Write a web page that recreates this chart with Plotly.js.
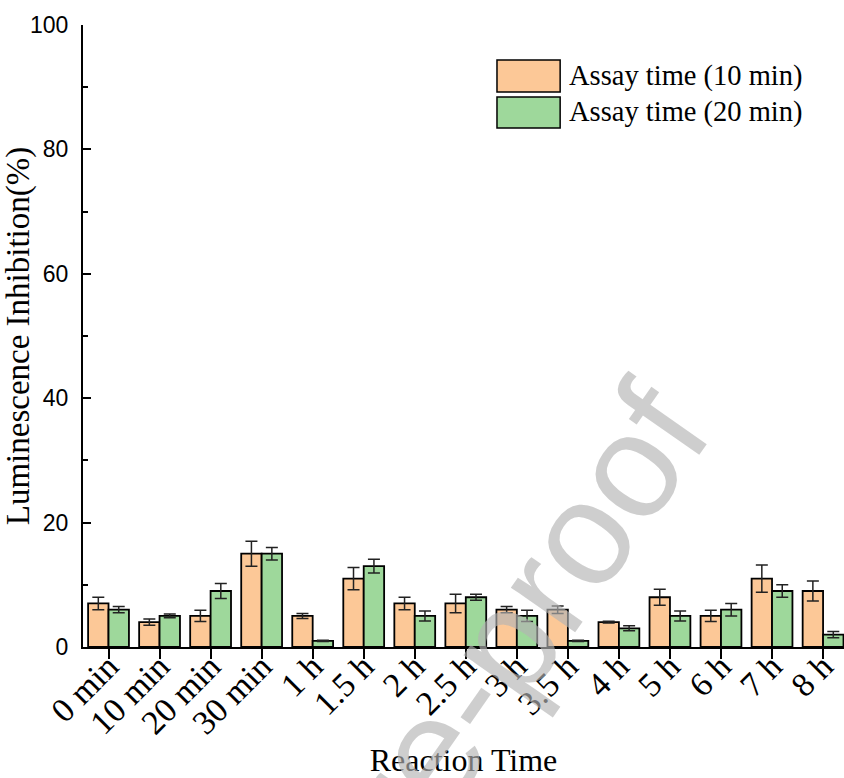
<!DOCTYPE html>
<html>
<head>
<meta charset="utf-8">
<script src="https://cdn.plot.ly/plotly-3.0.1.min.js"></script>
<style>html,body{margin:0;padding:0;background:#fff;}#chart{width:844px;height:778px;}</style>
</head>
<body>
<div id="chart"></div>
<script>
const categories = ['0 min','10 min','20 min','30 min','1 h','1.5 h','2 h','2.5 h','3 h','3.5 h','4 h','5 h','6 h','7 h','8 h'];
const assay10 = [7, 4, 5, 15, 5, 11, 7, 7, 6, 6, 4, 8, 5, 11, 9];
const assay10Err = [1.0, 0.5, 0.9, 2.0, 0.4, 1.8, 1.0, 1.5, 0.5, 0.6, 0.15, 1.3, 0.9, 2.2, 1.6];
const assay20 = [6, 5, 9, 15, 1, 13, 5, 8, 5, 1, 3, 5, 6, 9, 2];
const assay20Err = [0.5, 0.3, 1.2, 1.0, 0.1, 1.1, 0.8, 0.5, 0.9, 0.1, 0.4, 0.8, 1.0, 1.0, 0.5];
const seriesNames = ['Assay time (10 min)', 'Assay time (20 min)'];
const yTicks = [0, 20, 40, 60, 80, 100];

const orange = '#FCC897';
const green = '#9ED89B';
const serif = '"Liberation Serif", "Times New Roman", serif';
const sans = '"Liberation Sans", Arial, sans-serif';

function barTrace(name, y, err, color) {
  return {
    type: 'bar', name: name, x: categories, y: y,
    marker: {color: color, line: {color: '#000', width: 1.8}},
    error_y: {type: 'data', array: err, visible: true, color: '#222', thickness: 1.5, width: 6},
    showlegend: false
  };
}

const data = [
  barTrace(seriesNames[0], assay10, assay10Err, orange),
  barTrace(seriesNames[1], assay20, assay20Err, green)
];

// legend drawn as shapes + text (large swatches as in the reference)
const legendShapes = [
  {type: 'rect', xref: 'paper', yref: 'paper', x0: 0.544, x1: 0.627, y0: 0.8923, y1: 0.9437,
   fillcolor: orange, line: {color: '#000', width: 1.5}},
  {type: 'rect', xref: 'paper', yref: 'paper', x0: 0.544, x1: 0.627, y0: 0.8344, y1: 0.8842,
   fillcolor: green, line: {color: '#000', width: 1.5}}
];
const legendText = [
  {xref: 'paper', yref: 'paper', x: 0.636, y: 0.918, xanchor: 'left', yanchor: 'middle',
   text: seriesNames[0], showarrow: false, font: {family: serif, size: 28.5, color: '#000'}},
  {xref: 'paper', yref: 'paper', x: 0.636, y: 0.860, xanchor: 'left', yanchor: 'middle',
   text: seriesNames[1], showarrow: false, font: {family: serif, size: 28.5, color: '#000'}}
];
const watermark = {
  xref: 'paper', yref: 'paper', x: 0.345, y: -0.36, xanchor: 'center', yanchor: 'middle',
  text: 'Journal Pre-proof', showarrow: false, textangle: -55,
  font: {family: sans, size: 148, color: 'rgba(180,180,180,0.65)'}
};

const layout = {
  width: 844, height: 778,
  margin: {l: 83, r: 0, t: 25, b: 131, pad: 0},
  paper_bgcolor: '#fff', plot_bgcolor: '#fff',
  barmode: 'group', bargap: 0.2, bargroupgap: 0,
  showlegend: false,
  xaxis: {
    type: 'category', range: [-0.5, 14.41],
    showline: true, linecolor: '#000', linewidth: 2,
    ticks: 'outside', ticklen: 10, tickwidth: 2, tickcolor: '#000',
    tickangle: -45, tickfont: {family: serif, size: 34, color: '#000'},
    ticklabelshift: 0, ticklabelstandoff: -26,
    showgrid: false, zeroline: false,
    title: {text: 'Reaction Time', font: {family: serif, size: 32, color: '#000'}, standoff: 19},
    automargin: false
  },
  yaxis: {
    range: [0, 100], tickvals: yTicks, ticktext: yTicks.map(String),
    showline: true, linecolor: '#000', linewidth: 2,
    ticks: 'inside', ticklen: 8, tickwidth: 2, tickcolor: '#000',
    minor: {tickvals: [10, 30, 50, 70, 90], ticks: 'inside', ticklen: 5, tickwidth: 2, tickcolor: '#000'},
    tickfont: {family: sans, size: 23, color: '#000'},
    ticklabelstandoff: 8,
    showgrid: false, zeroline: false,
    title: {text: 'Luminescence Inhibition(%)', font: {family: serif, size: 33, color: '#000'}},
    automargin: false
  },
  shapes: legendShapes,
  annotations: legendText.concat([watermark])
};

Plotly.newPlot('chart', data, layout, {displayModeBar: false, staticPlot: true});
</script>
</body>
</html>
